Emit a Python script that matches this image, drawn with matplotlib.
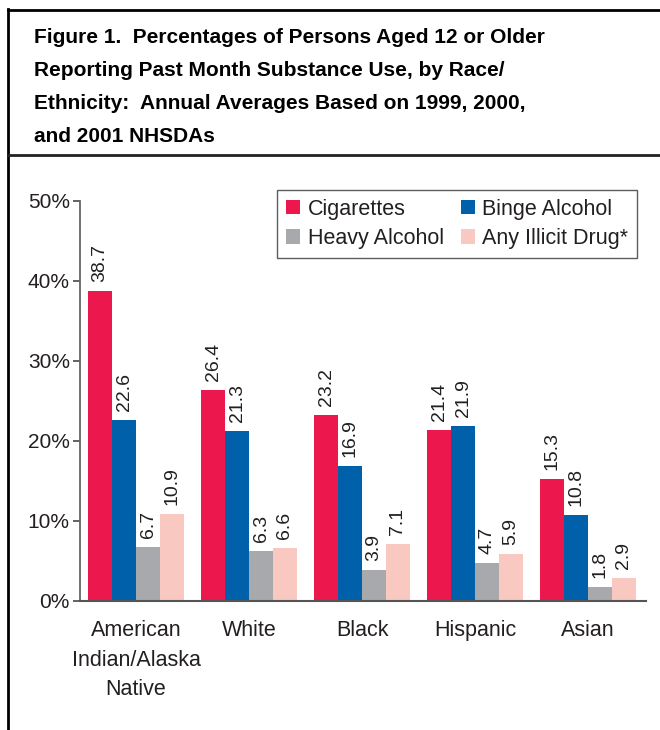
import matplotlib
matplotlib.use("Agg")
import matplotlib.pyplot as plt
from matplotlib.lines import Line2D
import numpy as np

plt.rcParams['font.family'] = ['Liberation Sans', 'DejaVu Sans']

categories = ["American\nIndian/Alaska\nNative", "White", "Black", "Hispanic", "Asian"]
series_names = ["Cigarettes", "Binge Alcohol", "Heavy Alcohol", "Any Illicit Drug*"]
cigarettes = [38.7, 26.4, 23.2, 21.4, 15.3]
binge_alcohol = [22.6, 21.3, 16.9, 21.9, 10.8]
heavy_alcohol = [6.7, 6.3, 3.9, 4.7, 1.8]
illicit_drug = [10.9, 6.6, 7.1, 5.9, 2.9]
yticks = [0, 10, 20, 30, 40, 50]
ytick_labels = ["0%", "10%", "20%", "30%", "40%", "50%"]
title_lines = ["Figure 1.  Percentages of Persons Aged 12 or Older",
               "Reporting Past Month Substance Use, by Race/",
               "Ethnicity:  Annual Averages Based on 1999, 2000,",
               "and 2001 NHSDAs"]

colors = ["#EC174C", "#0060A9", "#A8A9AD", "#F8C8C1"]
text_color = "#231F20"

W, H = 660, 730
fig = plt.figure(figsize=(W/100, H/100), dpi=100)

def fx(px): return px / W
def fy(py): return 1 - py / H

# frame lines
lw = 2.0
fig.add_artist(Line2D([fx(8), fx(8)], [fy(9), 0], color="black", lw=lw))
fig.add_artist(Line2D([fx(8), 1], [fy(10), fy(10)], color="black", lw=lw))
fig.add_artist(Line2D([fx(8), 1], [fy(155), fy(155)], color="#222222", lw=lw))

# title
baselines = [43, 76, 109, 142]
for line, b in zip(title_lines, baselines):
    fig.text(fx(34), fy(b), line, fontsize=15, fontweight="bold",
             color="black", ha="left", va="baseline")

ax = fig.add_axes([fx(80), fy(601), fx(646) - fx(80), fy(201) - fy(601)])
x = np.arange(len(categories))
bw = 0.212
all_series = [cigarettes, binge_alcohol, heavy_alcohol, illicit_drug]
handles = []
for i, (vals, name, c) in enumerate(zip(all_series, series_names, colors)):
    pos = x + (i - 1.5) * bw
    bars = ax.bar(pos, vals, width=bw, color=c, label=name, linewidth=0)
    handles.append(bars)
    for p, v in zip(pos, vals):
        ax.annotate(f"{v:.1f}", (p, v), xytext=(0, 6.5), textcoords="offset points",
                    rotation=90, ha="center", va="bottom", fontsize=14, color=text_color)

ax.set_xlim(-0.496, 4.513)
ax.set_ylim(0, 50)
ax.set_yticks(yticks)
ax.set_yticklabels(ytick_labels, fontsize=15, color=text_color)
ax.set_xticks(x)
ax.set_xticklabels(categories, fontsize=15.5, color=text_color, linespacing=1.52)
ax.tick_params(axis="x", length=0, pad=14)
ax.tick_params(axis="y", length=5.3, width=1.3, color="#555555", pad=2)
for s in ["top", "right"]:
    ax.spines[s].set_visible(False)
ax.spines["left"].set_color("#666666")
ax.spines["left"].set_linewidth(1.3)
ax.spines["bottom"].set_color("#555555")
ax.spines["bottom"].set_linewidth(1.5)

# legend filled row by row: Cigarettes, Binge / Heavy, Illicit
order = [0, 2, 1, 3]
leg = ax.legend([handles[k] for k in order], [series_names[k] for k in order],
                ncol=2, loc="upper right", bbox_to_anchor=(fx(637), fy(190)),
                bbox_transform=fig.transFigure, fontsize=15.5, frameon=True,
                fancybox=False, edgecolor="#333333", handlelength=0.65,
                handleheight=0.65, handletextpad=0.35, columnspacing=0.8,
                labelspacing=0.4, borderpad=0.4, borderaxespad=0)
leg.get_frame().set_linewidth(1.0)
for t in leg.get_texts():
    t.set_color(text_color)

fig.savefig("out.png", dpi=100)
